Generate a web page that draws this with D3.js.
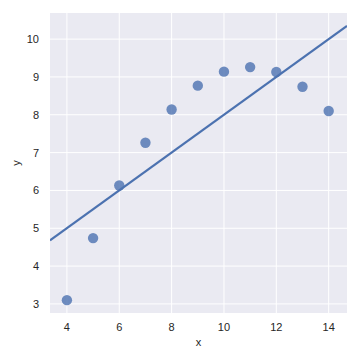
<!DOCTYPE html>
<html>
<head>
<meta charset="utf-8">
<script src="https://cdn.jsdelivr.net/npm/d3@7"></script>
<style>
  body { margin: 0; background: #fff; }
  text { font-family: "Liberation Sans", Arial, sans-serif; fill: #262626; }
</style>
</head>
<body>
<svg id="chart" width="360" height="360"></svg>
<script>
// Anscombe II
const xs = [10, 8, 13, 9, 11, 14, 6, 4, 12, 7, 5];
const ys = [9.14, 8.14, 8.74, 8.77, 9.26, 8.10, 6.13, 3.10, 9.13, 7.26, 4.74];
const xTicks = [4, 6, 8, 10, 12, 14];
const yTicks = [3, 4, 5, 6, 7, 8, 9, 10];
const fit = { intercept: 3.0, slope: 0.5 };

const svg = d3.select('#chart');
const mLeft = 50, mRight = 347, mTop = 13, mBottom = 313;

const x = d3.scaleLinear().domain([3.354, 14.70]).range([mLeft, mRight]);
const y = d3.scaleLinear().domain([2.76, 10.69]).range([mBottom, mTop]);

svg.append('rect')
  .attr('x', mLeft).attr('y', mTop)
  .attr('width', mRight - mLeft).attr('height', mBottom - mTop)
  .attr('fill', '#eaeaf2');

// grid
svg.selectAll('.gx').data(xTicks).join('line')
  .attr('x1', d => x(d)).attr('x2', d => x(d))
  .attr('y1', mTop).attr('y2', mBottom)
  .attr('stroke', '#fff').attr('stroke-width', 1);
svg.selectAll('.gy').data(yTicks).join('line')
  .attr('y1', d => y(d)).attr('y2', d => y(d))
  .attr('x1', mLeft).attr('x2', mRight)
  .attr('stroke', '#fff').attr('stroke-width', 1);

svg.append('clipPath').attr('id', 'clip')
  .append('rect').attr('x', mLeft).attr('y', mTop)
  .attr('width', mRight - mLeft).attr('height', mBottom - mTop);

const g = svg.append('g').attr('clip-path', 'url(#clip)');

g.selectAll('circle').data(xs).join('circle')
  .attr('cx', d => x(d))
  .attr('cy', (d, i) => y(ys[i]))
  .attr('r', 5.2)
  .attr('fill', '#4c72b0')
  .attr('fill-opacity', 0.8);

const xd = x.domain();
g.append('line')
  .attr('x1', x(xd[0])).attr('y1', y(fit.intercept + fit.slope * xd[0]))
  .attr('x2', x(xd[1])).attr('y2', y(fit.intercept + fit.slope * xd[1]))
  .attr('stroke', '#4c72b0').attr('stroke-width', 2.2);

// tick labels
svg.selectAll('.tx').data(xTicks).join('text')
  .attr('x', d => x(d)).attr('y', 331)
  .attr('text-anchor', 'middle')
  .attr('font-size', 11)
  .text(d => d);
svg.selectAll('.ty').data(yTicks).join('text')
  .attr('x', 39).attr('y', d => y(d) + 4)
  .attr('text-anchor', 'end')
  .attr('font-size', 11)
  .text(d => d);

svg.append('text').attr('x', (mLeft + mRight) / 2).attr('y', 346)
  .attr('text-anchor', 'middle').attr('font-size', 11).text('x');
svg.append('text')
  .attr('transform', `translate(20,${(mTop + mBottom) / 2}) rotate(-90)`)
  .attr('text-anchor', 'middle').attr('font-size', 11).text('y');
</script>
</body>
</html>
